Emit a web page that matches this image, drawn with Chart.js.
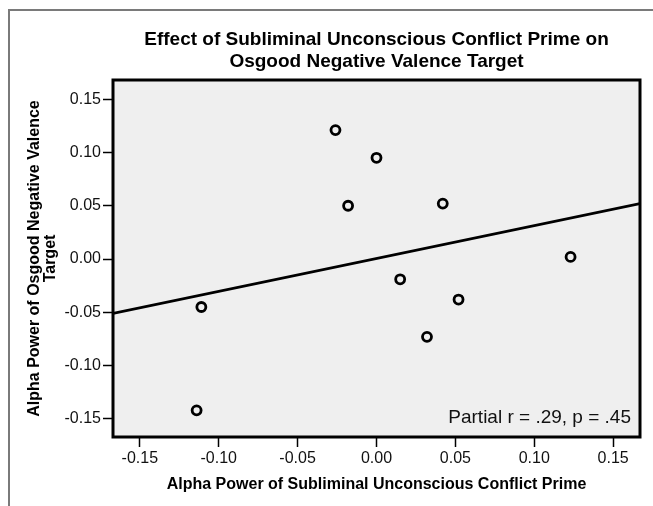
<!DOCTYPE html>
<html>
<head>
<meta charset="utf-8">
<script src="https://cdn.jsdelivr.net/npm/chart.js@4.4.1/dist/chart.umd.min.js"></script>
<style>
html, body { margin: 0; padding: 0; background: #fff; }
</style>
</head>
<body>
<canvas id="grafica" width="653" height="506"></canvas>
<script>
// Residuos parciales
const puntosX = [-0.026, 0.000, -0.018, 0.042, 0.015, 0.052, 0.032, 0.123, -0.111, -0.114];
const puntosY = [0.121, 0.095, 0.050, 0.052, -0.019, -0.038, -0.073, 0.002, -0.045, -0.142];

// Recta de ajuste, extremos del eje
const rectaX = [-0.167, 0.167];
const rectaY = [-0.051, 0.052];

// Marcas de los ejes
const marcas = [-0.15, -0.10, -0.05, 0.00, 0.05, 0.10, 0.15];

const titulo = ["Effect of Subliminal Unconscious Conflict Prime on", "Osgood Negative Valence Target"];
const tituloX = "Alpha Power of Subliminal Unconscious Conflict Prime";
const tituloY = ["Alpha Power of Osgood Negative Valence", "Target"];
const nota = "Partial r = .29, p = .45";

const fuente = 'Arial, "Liberation Sans", sans-serif';

const grafica = document.getElementById("grafica");

//Fondo, marco exterior, caja del gráfico y la nota
const decorado = {
    id: "decorado",
    beforeDraw(chart) {
        const ctx = chart.ctx;
        const a = chart.chartArea;
        ctx.save();
        ctx.fillStyle = "#ffffff";
        ctx.fillRect(0, 0, chart.width, chart.height);
        ctx.strokeStyle = "#7a7a7a";
        ctx.lineWidth = 2;
        ctx.beginPath();
        ctx.moveTo(9, chart.height);
        ctx.lineTo(9, 10);
        ctx.lineTo(chart.width, 10);
        ctx.stroke();
        ctx.fillStyle = "#efefef";
        ctx.fillRect(a.left, a.top, a.right - a.left, a.bottom - a.top);
        ctx.restore();
    },
    afterDraw(chart) {
        const ctx = chart.ctx;
        const a = chart.chartArea;
        ctx.save();
        ctx.strokeStyle = "#000";
        ctx.lineWidth = 3;
        ctx.strokeRect(a.left, a.top, a.right - a.left, a.bottom - a.top);
        ctx.fillStyle = "#111";
        ctx.font = "19px " + fuente;
        ctx.textAlign = "right";
        ctx.textBaseline = "alphabetic";
        ctx.fillText(nota, a.right - 9, a.bottom - 14);
        ctx.restore();
    }
};

const fijarMarcas = (escala) => {
    escala.ticks = marcas.map(v => ({ value: v }));
};

new Chart(grafica, {
    type: "scatter",
    data: {
        datasets: [
            {
                label: "Casos",
                data: puntosX.map((x, i) => ({ x: x, y: puntosY[i] })),
                pointStyle: "circle",
                pointRadius: 4.5,
                pointBorderWidth: 2.8,
                borderColor: "#000",
                backgroundColor: "rgba(0,0,0,0)",
                pointHoverRadius: 4.5
            },
            {
                type: "line",
                label: "Ajuste",
                data: rectaX.map((x, i) => ({ x: x, y: rectaY[i] })),
                borderColor: "#000",
                borderWidth: 2.8,
                pointRadius: 0,
                fill: false
            }
        ]
    },
    options: {
        responsive: false,
        animation: false,
        devicePixelRatio: 1,
        events: [],
        layout: { padding: { top: 0, left: 0, right: 13, bottom: 0 } },
        plugins: {
            legend: { display: false },
            tooltip: { enabled: false },
            title: {
                display: true,
                text: titulo,
                fullSize: false,
                color: "#000",
                font: { family: fuente, size: 19, weight: "bold", lineHeight: 1.15 },
                padding: { top: 29, bottom: 7.3 }
            }
        },
        scales: {
            x: {
                type: "linear",
                min: -0.167,
                max: 0.167,
                afterBuildTicks: fijarMarcas,
                afterFit: (s) => { s.height = 69; },
                border: { display: false },
                grid: { drawOnChartArea: false, drawTicks: true, tickLength: 10, tickColor: "#000", tickWidth: 1.5 },
                ticks: {
                    color: "#111",
                    padding: 2,
                    font: { family: fuente, size: 16 },
                    callback: (v) => Number(v).toFixed(2)
                },
                title: {
                    display: true,
                    text: tituloX,
                    color: "#000",
                    font: { family: fuente, size: 16, weight: "bold", lineHeight: 1.2 },
                    padding: { top: 4, bottom: 12 }
                }
            },
            y: {
                type: "linear",
                min: -0.167,
                max: 0.168,
                afterBuildTicks: fijarMarcas,
                afterFit: (s) => { s.width = 113; },
                border: { display: false },
                grid: { drawOnChartArea: false, drawTicks: true, tickLength: 10, tickColor: "#000", tickWidth: 1.5 },
                ticks: {
                    color: "#111",
                    padding: 2,
                    font: { family: fuente, size: 16 },
                    callback: (v) => Number(v).toFixed(2)
                },
                title: {
                    display: true,
                    text: tituloY,
                    color: "#000",
                    font: { family: fuente, size: 16, weight: "bold", lineHeight: 1.0 },
                    padding: { top: 27, bottom: 0 }
                }
            }
        }
    },
    plugins: [decorado]
});
</script>
</body>
</html>
